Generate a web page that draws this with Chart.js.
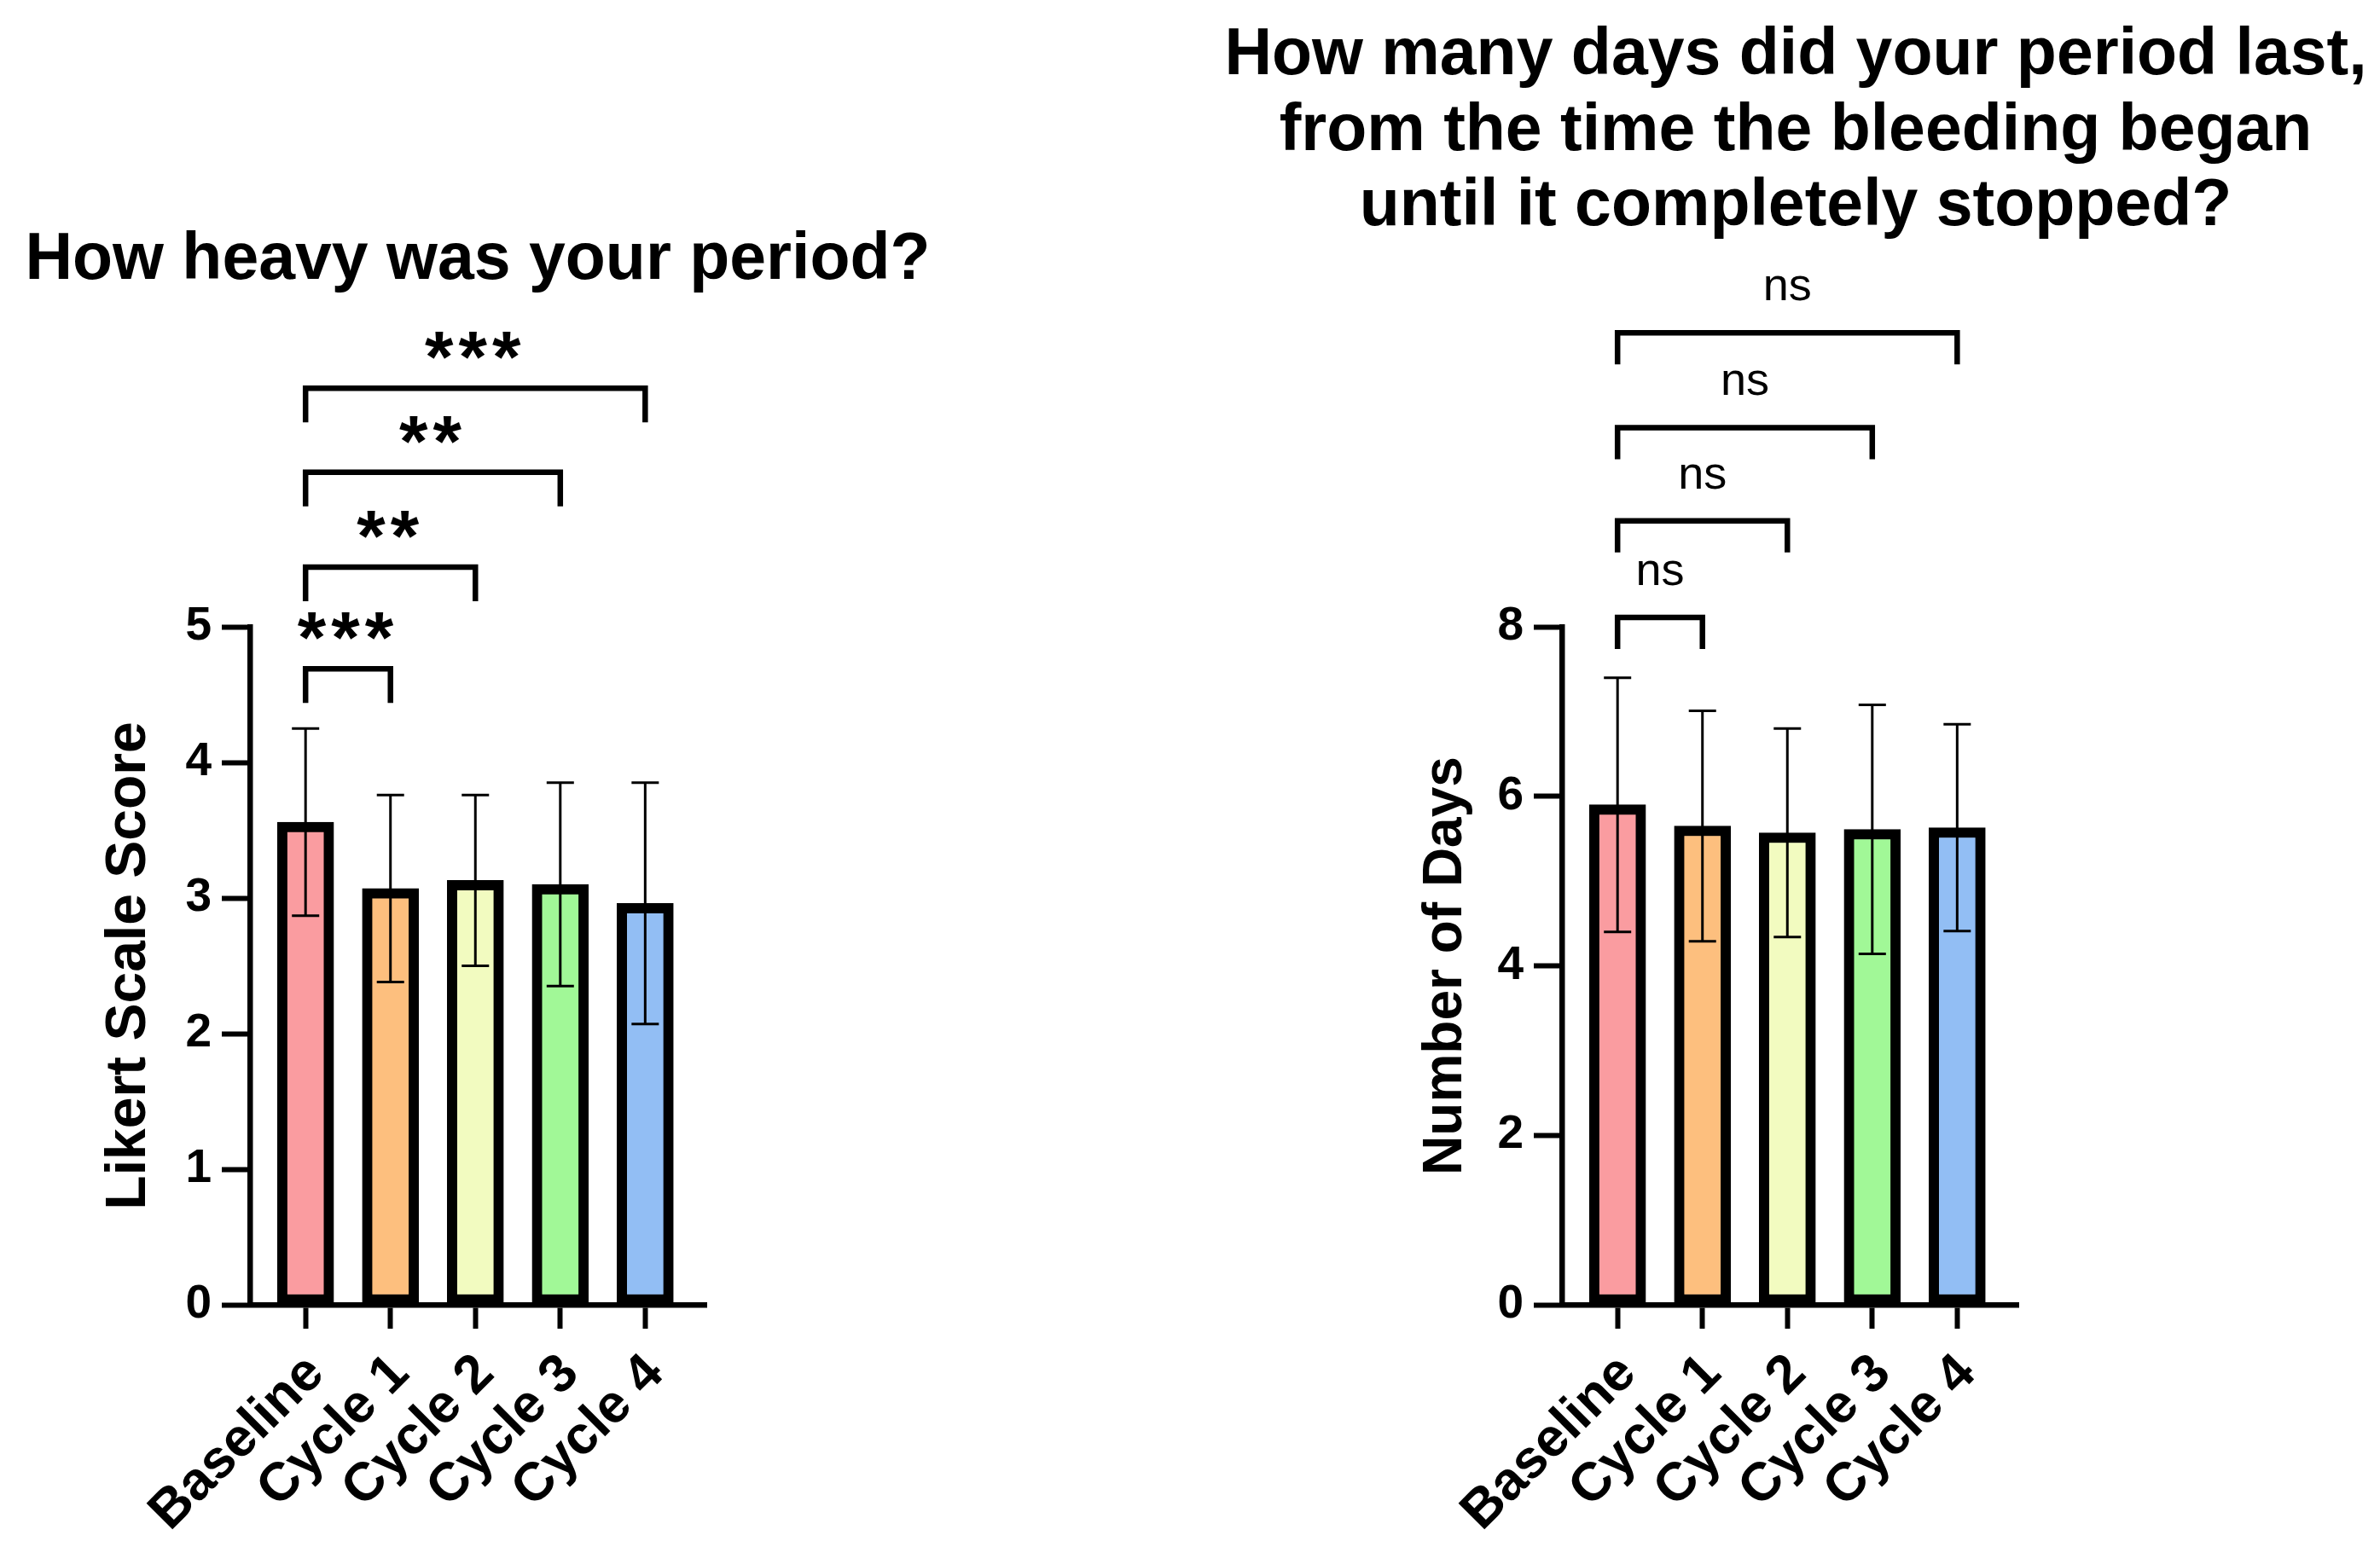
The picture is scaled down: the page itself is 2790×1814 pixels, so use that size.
<!DOCTYPE html>
<html>
<head>
<meta charset="utf-8">
<script src="https://cdn.jsdelivr.net/npm/chart.js@4.4.1/dist/chart.umd.min.js"></script>
<style>
  html, body { margin: 0; padding: 0; background: #fff; }
  body { width: 2790px; height: 1814px; position: relative; overflow: hidden; }
  canvas { position: absolute; top: 0; }
  #heavy { left: 0; }
  #days { left: 1395px; }
</style>
</head>
<body>
<canvas id="heavy" width="1395" height="1814"></canvas>
<canvas id="days" width="1395" height="1814"></canvas>
<script>
// groups on the x axis
const categories = ['Baseline', 'Cycle 1', 'Cycle 2', 'Cycle 3', 'Cycle 4'];
const barColors = ['#FA9CA0', '#FDBF7E', '#F2FBC0', '#A1F897', '#92BEF4'];

// left panel: heaviness (mean and SD)
const heavyTitle = ['How heavy was your period?'];
const heavyMean = [3.56, 3.07, 3.13, 3.10, 2.96];
const heavySd = [0.69, 0.69, 0.63, 0.75, 0.89];
const heavyTicks = [0, 1, 2, 3, 4, 5];
const heavyPairs = [[0, 1], [0, 2], [0, 3], [0, 4]];
const heavyLevels = [4.69, 5.44, 6.14, 6.76];
const heavyStars = ['***', '**', '**', '***'];

// right panel: number of days (mean and SD)
const daysTitle = ['How many days did your period last,', 'from the time the bleeding began', 'until it completely stopped?'];
const daysMean = [5.90, 5.65, 5.57, 5.61, 5.63];
const daysSd = [1.50, 1.36, 1.23, 1.47, 1.22];
const daysTicks = [0, 2, 4, 6, 8];
const daysPairs = [[0, 1], [0, 2], [0, 3], [0, 4]];
const daysLevels = [8.11, 9.25, 10.35, 11.47];
const daysStars = ['ns', 'ns', 'ns', 'ns'];

const FONT = "'Liberation Sans', Arial, sans-serif";
Chart.defaults.font.family = FONT;
Chart.defaults.color = '#000';

// error bars, comparison brackets and the panel title
const decorations = {
  id: 'decorations',
  afterDatasetsDraw(chart, args, opts) {
    const { ctx, scales: { x, y } } = chart;
    ctx.save();
    ctx.strokeStyle = '#000';
    ctx.lineWidth = 3;
    opts.mean.forEach((m, i) => {
      const px = x.getPixelForValue(i);
      const top = y.getPixelForValue(m + opts.sd[i]);
      const bot = y.getPixelForValue(m - opts.sd[i]);
      ctx.beginPath();
      ctx.moveTo(px, bot); ctx.lineTo(px, top);
      ctx.moveTo(px - 16, top); ctx.lineTo(px + 16, top);
      ctx.moveTo(px - 16, bot); ctx.lineTo(px + 16, bot);
      ctx.stroke();
    });
    ctx.restore();
  },
  afterDraw(chart, args, opts) {
    const { ctx, scales: { x, y } } = chart;
    ctx.save();
    ctx.strokeStyle = '#000';
    ctx.fillStyle = '#000';
    ctx.lineWidth = 6.5;
    ctx.lineCap = 'butt';
    ctx.lineJoin = 'miter';
    opts.pairs.forEach(([a, b], i) => {
      const x1 = x.getPixelForValue(a);
      const x2 = x.getPixelForValue(b);
      const yl = y.getPixelForValue(opts.levels[i]);
      ctx.beginPath();
      ctx.moveTo(x1, yl + opts.drop);
      ctx.lineTo(x1, yl);
      ctx.lineTo(x2, yl);
      ctx.lineTo(x2, yl + opts.drop);
      ctx.stroke();
      ctx.font = opts.labelFont;
      ctx.letterSpacing = opts.labelSpacing;
      ctx.textAlign = 'center';
      ctx.textBaseline = 'alphabetic';
      const m = ctx.measureText(opts.labels[i]);
      const cy = yl - opts.labelGap;
      ctx.fillText(opts.labels[i], (x1 + x2) / 2, cy + (m.actualBoundingBoxAscent - m.actualBoundingBoxDescent) / 2);
    });
    ctx.letterSpacing = '0px';
    ctx.font = 'bold 77px ' + FONT;
    ctx.textAlign = 'center';
    ctx.textBaseline = 'middle';
    opts.title.forEach((line, i) => {
      ctx.fillText(line, opts.titleX, opts.titleY + i * 88.5);
    });
    ctx.restore();
  }
};

function makePanel(id, cfg) {
  return new Chart(document.getElementById(id), {
    type: 'bar',
    data: {
      datasets: [{
        data: cfg.mean.map((v, i) => ({ x: i, y: v })),
        backgroundColor: barColors,
        borderColor: '#000',
        borderWidth: 12,
        borderSkipped: false,
        barThickness: 66
      }]
    },
    plugins: [decorations],
    options: {
      responsive: false,
      animation: false,
      devicePixelRatio: 1,
      layout: { padding: { top: 735, right: cfg.padRight, left: 0, bottom: 0 } },
      plugins: {
        legend: { display: false },
        title: { display: false },
        tooltip: { enabled: false },
        decorations: {
          mean: cfg.mean, sd: cfg.sd,
          pairs: cfg.pairs, levels: cfg.levels, labels: cfg.labels,
          drop: cfg.drop, labelGap: cfg.labelGap,
          labelFont: cfg.labelFont, labelSpacing: cfg.labelSpacing,
          title: cfg.title, titleX: cfg.titleX, titleY: cfg.titleY
        }
      },
      scales: {
        x: {
          type: 'linear',
          offset: false,
          min: -0.655,
          max: 4.72,
          afterBuildTicks: (s) => { s.ticks = categories.map((c, i) => ({ value: i })); },
          afterFit: (s) => { s.height = 284; },
          grid: { display: true, offset: false, drawOnChartArea: false, drawTicks: true, tickLength: 28, tickWidth: 6, tickColor: '#000' },
          border: { display: true, color: '#000', width: 6.5 },
          ticks: {
            autoSkip: false,
            minRotation: 45,
            maxRotation: 45,
            padding: 16,
            labelOffset: 12,
            font: { size: 63, weight: 'bold' },
            callback: (v) => categories[v]
          }
        },
        y: {
          min: 0,
          max: cfg.max,
          afterBuildTicks: (s) => { s.ticks = cfg.ticks.map(v => ({ value: v })); },
          afterFit: (s) => { s.width = cfg.axisX; },
          grid: { display: true, drawOnChartArea: false, drawTicks: true, tickLength: 33, tickWidth: 6, tickColor: '#000' },
          border: { display: true, color: '#000', width: 6.5 },
          ticks: { padding: 12, font: { size: 55, weight: 'bold' } },
          title: {
            display: true,
            text: cfg.yTitle,
            font: { size: cfg.yTitleSize, weight: 'bold', lineHeight: 1.2 },
            padding: { top: cfg.yTitlePad, bottom: 0 }
          }
        }
      }
    }
  });
}

makePanel('heavy', {
  mean: heavyMean, sd: heavySd, max: 5, ticks: heavyTicks,
  pairs: heavyPairs, levels: heavyLevels, labels: heavyStars,
  drop: 40, labelGap: 50, labelFont: 'bold 86px ' + FONT, labelSpacing: '6px',
  title: heavyTitle, titleX: 560, titleY: 306,
  axisX: 293, padRight: 567,
  yTitle: 'Likert Scale Score', yTitleSize: 66, yTitlePad: 112
});

makePanel('days', {
  mean: daysMean, sd: daysSd, max: 8, ticks: daysTicks,
  pairs: daysPairs, levels: daysLevels, labels: daysStars,
  drop: 37, labelGap: 52, labelFont: 'normal 54px ' + FONT, labelSpacing: '0px',
  title: daysTitle, titleX: 710, titleY: 66,
  axisX: 436, padRight: 424,
  yTitle: 'Number of Days', yTitleSize: 64, yTitlePad: 262
});
</script>
</body>
</html>
